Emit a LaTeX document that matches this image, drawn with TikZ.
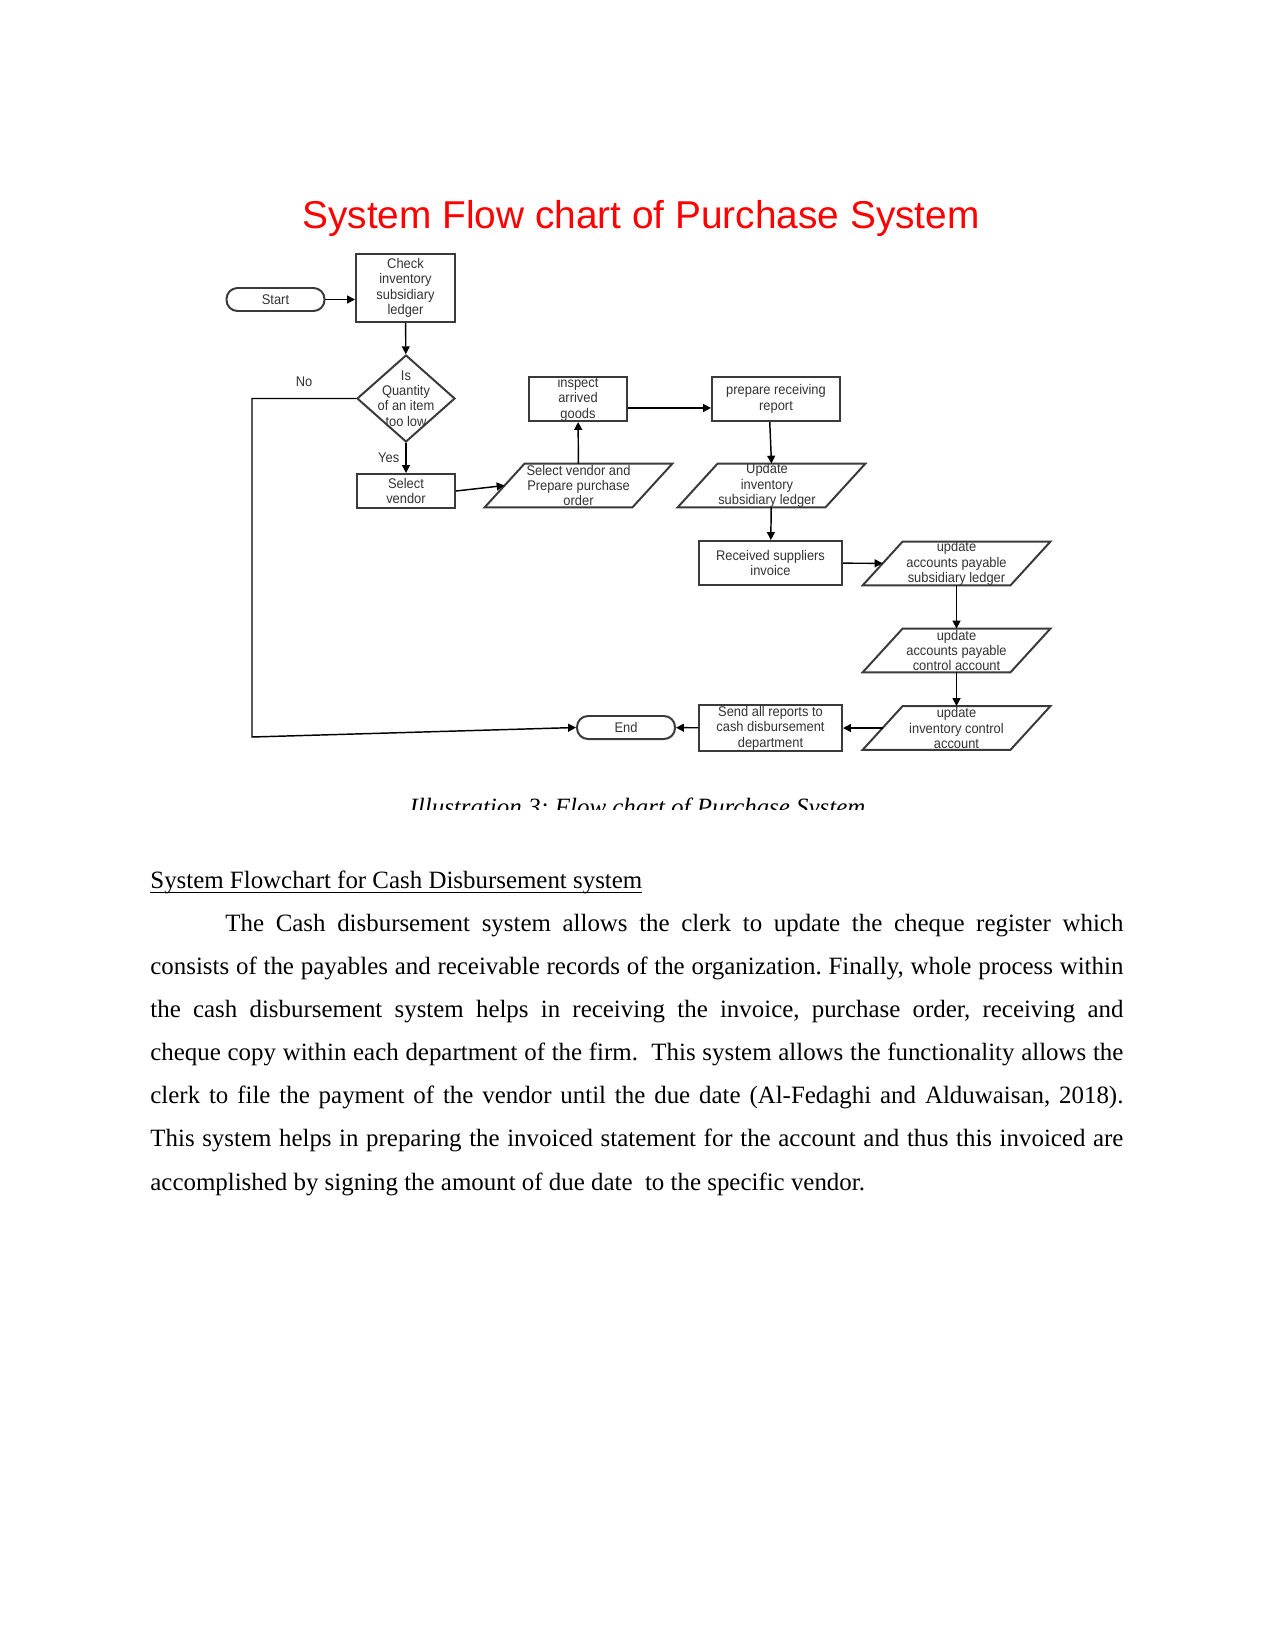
\documentclass[tikz,border=0pt]{standalone}
\usepackage{fontspec}
\setmainfont{Liberation Serif}
\newfontfamily\chartfont[FakeStretch=0.92]{Liberation Sans}
\newfontfamily\titlefont{Liberation Sans}
\usetikzlibrary{arrows.meta,shapes.geometric,positioning}
\newdimen\pxu \pxu=0.48bp
\newcommand{\ulbar}[1]{\setbox0\hbox{#1}\rlap{\vrule width\wd0 height-1.7bp depth2.25bp}\box0}
\definecolor{ink}{HTML}{333333}
\definecolor{rim}{HTML}{3A3A3A}
\tikzset{
  >={Triangle[length=3.8bp,width=3.8bp]},
  chart/.style={font=\chartfont\fontsize{6.75}{7.45}\selectfont, text=ink},
  proc/.style={rectangle, draw=rim, line width=0.95bp, inner sep=0pt, align=center, chart},
  term/.style={proc, rounded corners=11*\pxu, minimum width=98*\pxu, minimum height=23*\pxu},
  io/.style={rectangle, inner sep=0pt, minimum width=147*\pxu, minimum height=43*\pxu},
  iorim/.style={draw=rim, line width=0.95bp, line join=miter},
  decision/.style={diamond, draw=rim, line width=0.95bp, inner sep=0pt, minimum width=98*\pxu, minimum height=87*\pxu},
  txt/.style={align=center, inner sep=0pt, chart},
  flow/.style={->, line width=0.7bp, black},
}
\begin{document}
\frenchspacing
\begin{tikzpicture}[x=0.48bp, y=-0.48bp]
	\path[fill=white] (0,0) rectangle (1275,1651);
	% Titel
		\node (title) at (641,228) [anchor=base, font=\titlefont\fontsize{18.7}{22}\selectfont, text=red] {System Flow chart of Purchase System};
	% Knoten
		\node (start) at (275.5,299.5) [term] {Start};
		\node (chk) at (405.5,288) [proc, minimum width=99*\pxu, minimum height=68*\pxu] {Check\\inventory\\subsidiary\\ledger};
		\node (qty) at (406,398.5) [decision] {};
		\node (qtytxt) at (qty) [txt] {Is\\Quantity\\of an item\\too low};
		\node (selv) at (406,491) [proc, minimum width=98*\pxu, minimum height=34*\pxu] {Select\\vendor};
		\node (po) at (578.5,485.5) [io] {};
		\node (potxt) at (po) [txt] {Select vendor and\\Prepare purchase\\order};
		\node (insp) at (578,399) [proc, minimum width=98*\pxu, minimum height=44*\pxu] {inspect\\arrived\\goods};
		\node (prep) at (776,399) [proc, minimum width=128*\pxu, minimum height=44*\pxu] {prepare receiving\\report};
		\node (upinv) at (771.5,485.5) [io] {};
		\node (upinvtxt) at (767,485.5) [txt] {Update\\inventory\\subsidiary ledger};
		\node (recv) at (770.5,563) [proc, minimum width=143*\pxu, minimum height=44*\pxu] {Received suppliers\\invoice};
		\node (apsub) at (956.5,563.5) [io] {};
		\node (apsubtxt) at (apsub) [txt] {update\\accounts payable\\subsidiary ledger};
		\node (apctl) at (956.5,650.5) [io] {};
		\node (apctltxt) at (apctl) [txt] {update\\accounts payable\\control account};
		\node (invctl) at (956.5,728) [io] {};
		\node (invctltxt) at (invctl) [txt] {update\\inventory control\\account};
		\node (send) at (770.5,728) [proc, minimum width=143*\pxu, minimum height=46*\pxu] {Send all reports to\\cash disbursement\\department};
		\node (stop) at (626,727.5) [term] {End};
		\coordinate (nob) at (252,737);
	% Parallelogramme
		\foreach \n in {po,upinv,apsub,apctl,invctl}
			\draw[iorim] ([xshift=-9.6bp]\n.south west) -- ([xshift=9.6bp]\n.north west) -- ([xshift=9.6bp]\n.north east) -- ([xshift=-9.6bp]\n.south east) -- cycle;
	% Kanten
		\draw[flow] (start.east) -- (start.east -| chk.west);
		\draw[flow] (chk) edge (qty);
		\draw[flow] (qty) edge node[left=2.9bp, txt]{Yes} (selv);
		\draw[flow] (qty.west) -- node[above=5.3bp, txt]{No} (qty.west -| nob) -- (nob) -- (stop.west);
		\draw[flow] (selv.east) -- (po.west);
		\draw[flow] (po) edge (insp);
		\draw[flow] ([yshift=-4.3bp]insp.east) -- ([yshift=-4.3bp]prep.west);
		\draw[flow] ([xshift=-3bp]prep.south) -- (upinv.north);
		\draw[flow] (upinv) edge (recv);
		\draw[flow] (recv) edge (apsub);
		\draw[flow] (apsub) edge (apctl);
		\draw[flow] (apctl) edge (invctl);
		\draw[flow] (invctl) edge (send);
		\draw[flow] (send) edge (stop);
	% Bildunterschrift (abgeschnitten)
	\begin{scope}
		\clip (0,0) rectangle (1275,809);
		\node (caption) at (637.5,815) [anchor=base, inner sep=0pt, font=\fontsize{12}{14}\selectfont\itshape] {Illustration 3: Flow chart of Purchase System};
	\end{scope}
	% Text
		\node (head) at (150,888) [anchor=base west, inner sep=0pt, font=\fontsize{12}{14}\selectfont] {\ulbar{System Flowchart for Cash Disbursement system}};
		\node (body) at (150,931) [anchor=base west, inner sep=0pt, text width=467bp, align=justify, font=\fontsize{12}{20.8}\selectfont] {\hspace*{75\pxu}The Cash disbursement system allows the clerk to update the cheque register which\linebreak consists of the payables and receivable records of the organization. Finally, whole process within\linebreak the cash disbursement system helps in receiving the invoice, purchase order, receiving and\linebreak cheque copy within each department of the firm.\ \ This system allows the functionality allows the\linebreak clerk to file the payment of the vendor until the due date (Al-Fedaghi and Alduwaisan, 2018).\linebreak This system helps in preparing the invoiced statement for the account and thus this invoiced are\linebreak accomplished by signing the amount of due date\ \ to the specific vendor.};
\end{tikzpicture}
\end{document}
